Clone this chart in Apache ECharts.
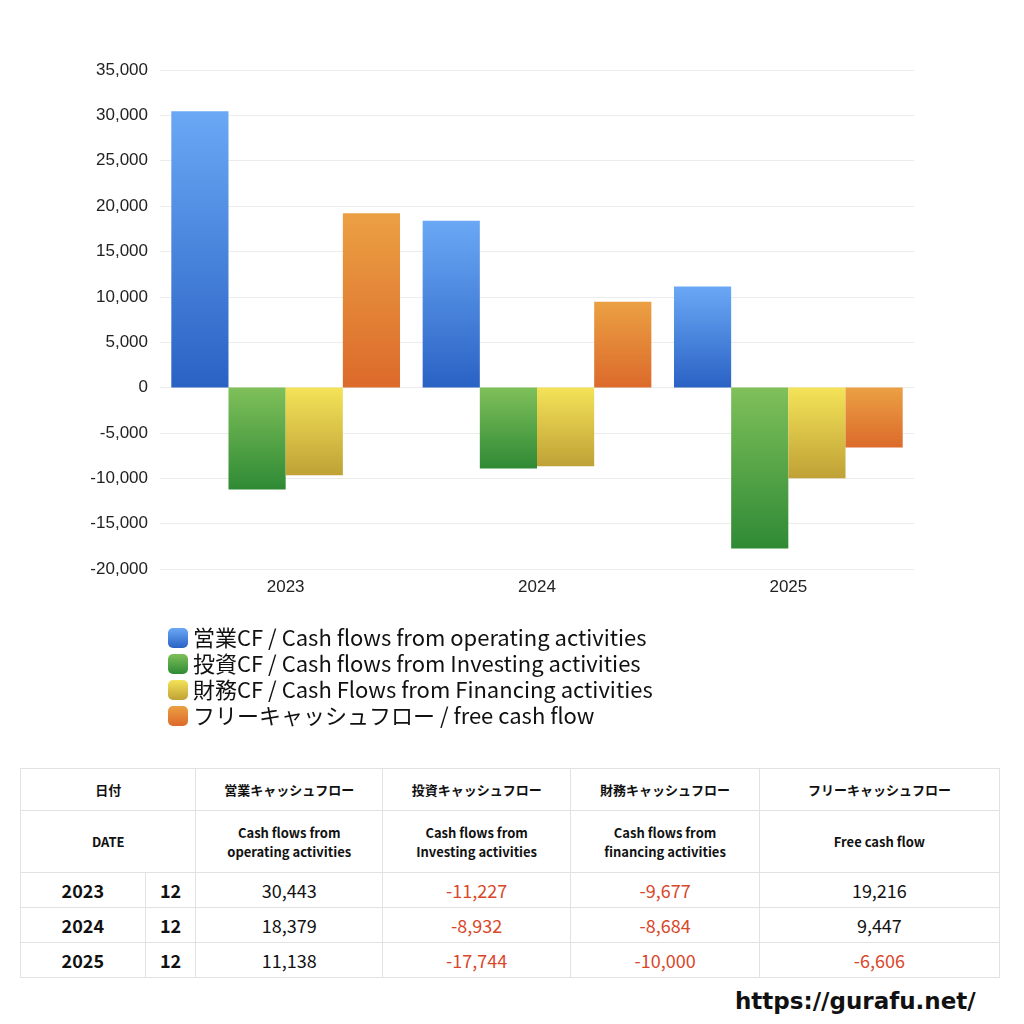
<!DOCTYPE html>
<html><head><meta charset="utf-8">
<script src="https://cdn.jsdelivr.net/npm/echarts@6/dist/echarts.min.js"></script>
<style>
body{margin:0;width:1024px;height:1024px;background:#fff;font-family:"Noto Sans CJK JP","Noto Sans",sans-serif;position:relative;overflow:hidden}
#c{position:absolute;left:0;top:0;width:1024px;height:740px}
table{position:absolute;left:20px;top:768px;border-collapse:collapse;width:980px;color:#111}
td{border:1px solid #e2e2e2;text-align:center;padding:0}
.h td{font-size:13px;font-weight:bold}
.d td{font-size:18px}
.neg{color:#d9472b}
.y{font-weight:bold}
#u{position:absolute;left:735px;top:988px;font-size:23px;font-weight:bold;font-family:"DejaVu Sans",sans-serif;color:#111}
</style></head><body>
<div id="c"></div>
<table id="t"></table>
<div id="u">https://gurafu.net/</div>
<script>
const years=['2023','2024','2025'];
const months=['12','12','12'];
const operating=[30443,18379,11138];
const investing=[-11227,-8932,-17744];
const financing=[-9677,-8684,-10000];
const free=[19216,9447,-6606];
const names=['営業CF / Cash flows from operating activities','投資CF / Cash flows from Investing activities','財務CF / Cash Flows from Financing activities','フリーキャッシュフロー / free cash flow'];
const grads=[['#6aa8f5','#2a62c4'],['#7fc05a','#2f8a35'],['#f4e358','#bfa136'],['#eba043','#dc6a2b']];
const g=c=>new echarts.graphic.LinearGradient(0,0,0,1,[{offset:0,color:c[0]},{offset:1,color:c[1]}]);
const ch=echarts.init(document.getElementById('c'));
ch.setOption({
 animation:false,
 grid:{left:160,right:110,top:70,height:499},
 legend:{orient:'vertical',left:163,top:622,itemWidth:20,itemHeight:20,itemGap:4,
  textStyle:{fontSize:22,color:'#111',fontFamily:'Noto Sans CJK JP'},data:names},
 xAxis:{type:'category',data:years,axisLine:{show:false},axisTick:{show:false},
  axisLabel:{fontSize:17,color:'#222',margin:10}},
 yAxis:{type:'value',min:-20000,max:35000,interval:5000,
  axisLabel:{fontSize:17,color:'#222',margin:12,formatter:v=>v.toLocaleString('en-US')},
  splitLine:{lineStyle:{color:'#ececec'}}},
 series:[operating,investing,financing,free].map((d,i)=>({
  name:names[i],type:'bar',data:d,barGap:'0%',barCategoryGap:'9%',
  itemStyle:{color:g(grads[i])}}))
});
const fmt=v=>v.toLocaleString('en-US');
let h='<tr class="h" style="height:42px"><td colspan="2">日付</td><td>営業キャッシュフロー</td><td>投資キャッシュフロー</td><td>財務キャッシュフロー</td><td>フリーキャッシュフロー</td></tr>';
h+='<tr class="h" style="height:62px"><td colspan="2">DATE</td><td>Cash flows from<br>operating activities</td><td>Cash flows from<br>Investing activities</td><td>Cash flows from<br>financing activities</td><td>Free cash flow</td></tr>';
years.forEach((y,i)=>{
 h+='<tr class="d" style="height:35px"><td class="y" style="width:124px">'+y+'</td><td class="y" style="width:50px">'+months[i]+'</td>';
 [operating,investing,financing,free].forEach((a,j)=>{
  const w=[186,188,188,240][j];
  h+='<td style="width:'+w+'px" class="'+(a[i]<0?'neg':'')+'">'+fmt(a[i])+'</td>';});
 h+='</tr>';});
document.getElementById('t').innerHTML=h;
</script></body></html>
